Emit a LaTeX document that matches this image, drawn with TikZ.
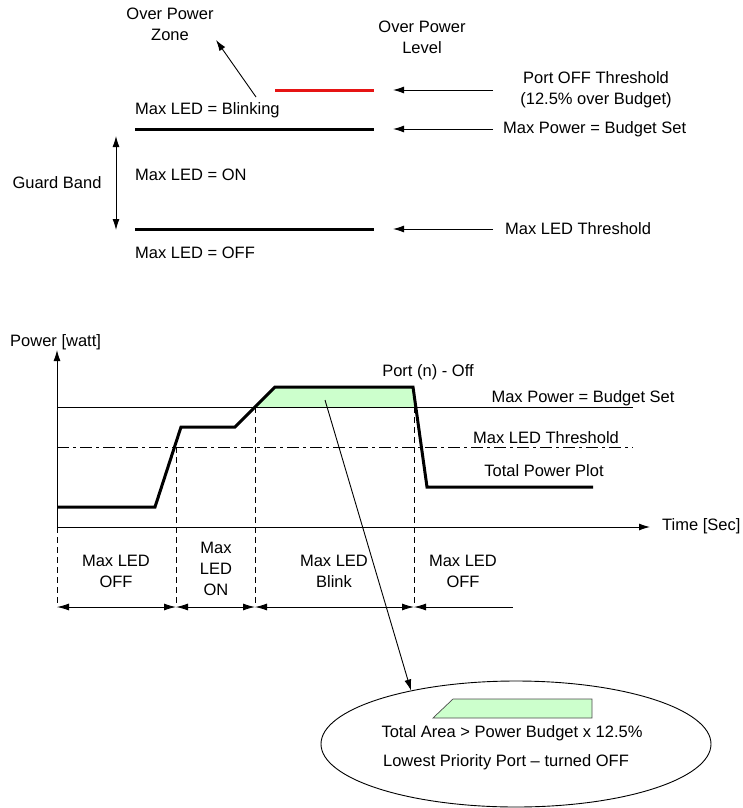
\documentclass[tikz,border=0pt]{standalone}
\usepackage{fontspec}
\setmainfont{Liberation Sans}
\usetikzlibrary{arrows.meta,shapes.geometric}
\definecolor{areagreen}{RGB}{204,255,204}
\definecolor{levelred}{RGB}{230,20,20}
\begin{document}
\begin{tikzpicture}[x=1pt,y=-1pt,
  txt/.style={font=\fontsize{16.5}{21}\selectfont, inner sep=0pt, align=center},
  ltxt/.style={txt, anchor=west, align=left},
  level/.style={line width=3pt},
  thin/.style={line width=0.9pt},
  ptr/.style={thin,-{Latex[length=11pt,width=7pt]}},
  dptr/.style={thin,{Latex[length=11pt,width=7pt]}-{Latex[length=11pt,width=7pt]}},
  dim/.style={thin,{Latex[length=12pt,width=7pt]}-{Latex[length=12pt,width=7pt]}},
  dimstart/.style={thin,{Latex[length=12pt,width=7pt]}-},
  vdash/.style={line width=0.8pt, dash pattern=on 6pt off 4pt},
  dashdot/.style={line width=0.9pt, dash pattern=on 12pt off 4pt on 3pt off 4pt},
  curve/.style={line width=3pt, line join=miter},
]
\useasboundingbox (0,0) rectangle (742,808);

% ---------------- top part ----------------
\node[txt] (opzone) at (170,24) {Over Power\\Zone};
\node[txt] (oplevel) at (422,37) {Over Power\\Level};
\coordinate (zonetail) at (256,97);
\coordinate (zonetip) at (216,40);
\draw[ptr] (zonetail) -- (zonetip);

\coordinate (redL) at (275,90);
\coordinate (redR) at (374,90);
\draw[level, levelred] (redL) -- (redR);
\node[txt] (portoff) at (596,90) {Port OFF Threshold\\(12.5\% over Budget)};
\coordinate (a1s) at (493,90);
\coordinate (a1e) at (393,90);
\draw[ptr] (a1s) -- (a1e);

\node[ltxt] (blink) at (135,110) {Max LED = Blinking};
\coordinate (maxL) at (135,129);
\coordinate (maxR) at (374,129);
\draw[level] (maxL) -- (maxR);
\coordinate (a2s) at (493,129);
\coordinate (a2e) at (393,129);
\draw[ptr] (a2s) -- (a2e);
\node[ltxt] (maxpow) at (503,129) {Max Power = Budget Set};

\node[txt] (guard) at (57,183) {Guard Band};
\coordinate (gtop) at (116,136);
\coordinate (gbot) at (116,230);
\draw[dptr] (gtop) -- (gbot);
\node[ltxt] (ledon) at (135,175) {Max LED = ON};

\coordinate (thrL) at (135,229);
\coordinate (thrR) at (374,229);
\draw[level] (thrL) -- (thrR);
\coordinate (a3s) at (493,229);
\coordinate (a3e) at (393,229);
\draw[ptr] (a3s) -- (a3e);
\node[ltxt] (maxthr) at (505,229) {Max LED Threshold};
\node[ltxt] (ledoff) at (135,253) {Max LED = OFF};

% ---------------- bottom chart ----------------
\fill[areagreen] (255,407) -- (275,387) -- (413,387) -- (416,407) -- cycle;

\node[ltxt] (powlbl) at (10,342) {Power [watt]};
\coordinate (origin) at (57,527);
\coordinate (ytop) at (57,350);
\coordinate (xend) at (650,527);
\draw[ptr] (origin) -- (ytop);
\draw[ptr] (origin) -- (xend);
\node[ltxt] (timelbl) at (662,526) {Time [Sec]};

\coordinate (mpL) at (57,407);
\coordinate (mpR) at (633,407);
\draw[thin] (mpL) -- (mpR);
\coordinate (mtL) at (57,447);
\coordinate (mtR) at (633,447);
\draw[dashdot] (mtL) -- (mtR);

\node[txt] (mplbl) at (583,398) {Max Power = Budget Set};
\node[txt] (mtlbl) at (546,438) {Max LED Threshold};
\node[txt] (tplbl) at (544,471) {Total Power Plot};
\node[txt] (portn) at (428,372) {Port (n) - Off};

% dashed verticals
\coordinate (v0t) at (57,527);   \coordinate (v0b) at (57,607);
\coordinate (v1t) at (176,447);  \coordinate (v1b) at (176,607);
\coordinate (v2t) at (255,407);  \coordinate (v2b) at (255,607);
\coordinate (v3t) at (414,407);  \coordinate (v3b) at (414,607);
\draw[vdash] (v0t) -- (v0b);
\draw[vdash] (v1t) -- (v1b);
\draw[vdash] (v2t) -- (v2b);
\draw[vdash] (v3t) -- (v3b);

% power curve
\draw[curve] (57,507) -- (155,507) -- (181,427) -- (235,427) -- (275,387)
  -- (413,387) -- (427,487) -- (593,487);

% dimension arrows
\coordinate (dend) at (513,607);
\draw[dim] (v0b) -- (v1b);
\draw[dim] (v1b) -- (v2b);
\draw[dim] (v2b) -- (v3b);
\draw[dimstart] (v3b) -- (dend);

\node[txt] (z1) at (116,571) {Max LED\\OFF};
\node[txt] (z2) at (216,569) {Max\\LED\\ON};
\node[txt] (z3) at (334,571) {Max LED\\Blink};
\node[txt] (z4) at (463,571) {Max LED\\OFF};

% ellipse callout
\node[draw, thin, ellipse, minimum width=390pt, minimum height=126pt, inner sep=0pt] (ell) at (516,744) {};
\coordinate (ptrstart) at (325,400);
\draw[ptr] (ptrstart) -- (ell.153);
\filldraw[areagreen, draw=black!70, line width=0.7pt] (433,718) -- (453,699) -- (592,699) -- (592,718) -- cycle;
\node[txt] (area) at (512,733) {Total Area > Power Budget x 12.5\%};
\node[txt] (lowest) at (506,762) {Lowest Priority Port – turned OFF};
\end{tikzpicture}
\end{document}
